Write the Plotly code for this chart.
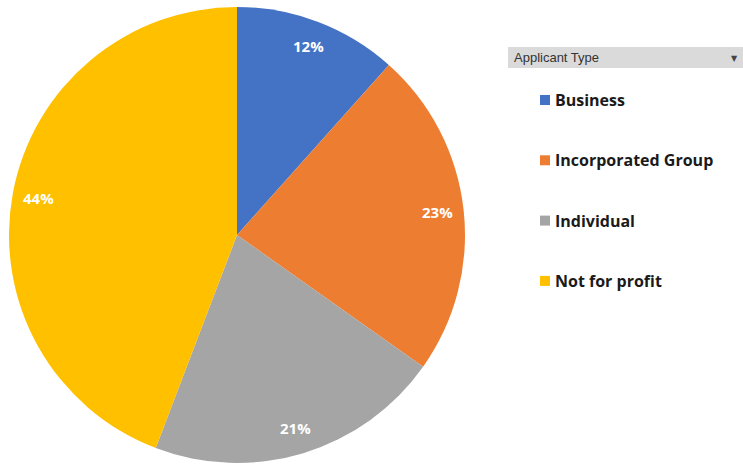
import math
import plotly.graph_objects as go

categories = ["Business", "Incorporated Group", "Individual", "Not for profit"]
values = [11.6, 23.2, 21.0, 44.2]
colors = ["#4472C4", "#ED7D31", "#A5A5A5", "#FFC000"]
legend_title = "Applicant Type"

W, H = 743, 464
cx_px, cy_px, R_px = 237, 235, 228

fig = go.Figure()
fig.add_trace(go.Pie(
    labels=categories, values=values, sort=False, direction="clockwise", rotation=0,
    marker=dict(colors=colors, line=dict(width=0)),
    textinfo="none", hoverinfo="label+percent", showlegend=False,
    domain=dict(x=[(cx_px - R_px) / W, (cx_px + R_px) / W],
                y=[1 - (cy_px + R_px) / H, 1 - (cy_px - R_px) / H]),
))

# percentage labels, positioned from the data
total = sum(values)
cum = 0
annotations = []
for v in values:
    mid = (cum + v / 2) / total * 2 * math.pi
    cum += v
    x = cx_px + 0.885 * R_px * math.sin(mid)
    y = cy_px - 0.885 * R_px * math.cos(mid)
    annotations.append(dict(x=x / W, y=1 - y / H, xref="paper", yref="paper",
                            xanchor="center", yanchor="middle",
                            text=f"<b>{round(v / total * 100)}%</b>", showarrow=False,
                            font=dict(family="Open Sans", size=15, color="white")))

shapes = []
# legend header bar
shapes.append(dict(type="rect", xref="paper", yref="paper",
                   x0=508 / W, x1=1, y0=1 - 68 / H, y1=1 - 47 / H,
                   fillcolor="#DADADA", line=dict(width=0)))
annotations.append(dict(x=512 / W, y=1 - 57.5 / H, xref="paper", yref="paper",
                        xanchor="left", yanchor="middle",
                        text=legend_title, showarrow=False,
                        font=dict(family="Liberation Sans", size=13, color="#333333")))
annotations.append(dict(x=734 / W, y=1 - 58 / H, xref="paper", yref="paper",
                        xanchor="center", yanchor="middle",
                        text="▼", showarrow=False,
                        font=dict(family="DejaVu Sans", size=8, color="#444444")))

for i, (cat, col) in enumerate(zip(categories, colors)):
    yc = 100 + i * 60.3
    shapes.append(dict(type="rect", xref="paper", yref="paper",
                       x0=540 / W, x1=550 / W, y0=1 - (yc + 5) / H, y1=1 - (yc - 5) / H,
                       fillcolor=col, line=dict(width=0)))
    annotations.append(dict(x=553 / W, y=1 - yc / H, xref="paper", yref="paper",
                            xanchor="left", yanchor="middle",
                            text=f"<b>{cat}</b>", showarrow=False,
                            font=dict(family="Open Sans", size=16, color="#1a1a1a")))

fig.update_layout(width=W, height=H, margin=dict(l=0, r=0, t=0, b=0),
                  paper_bgcolor="white", plot_bgcolor="white",
                  shapes=shapes, annotations=annotations)
fig.write_html("out.html")
